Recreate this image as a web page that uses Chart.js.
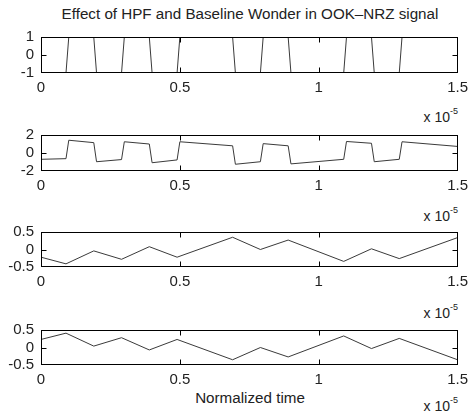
<!DOCTYPE html>
<html><head><meta charset="utf-8">
<script src="https://cdn.jsdelivr.net/npm/chart.js@4/dist/chart.umd.min.js"></script>
<style>
body{margin:0;background:#fff;width:474px;height:414px;overflow:hidden;position:relative;font-family:"Liberation Sans",Arial,sans-serif;color:#222}
.c{position:absolute;left:0}
.t{position:absolute;white-space:nowrap;font-size:15.2px;line-height:17px}
.e{position:absolute;font-size:14px;line-height:14px;white-space:nowrap}
.e sup{font-size:9px;position:relative;top:-2px}
</style></head><body>
<div class="t" style="left:0;width:500px;text-align:center;top:5px">Effect of HPF and Baseline Wonder in OOK–NRZ signal</div>
<div class="e" style="right:16px;top:106px">x 10<sup>-5</sup></div>
<div class="e" style="right:16px;top:205px">x 10<sup>-5</sup></div>
<div class="e" style="right:16px;top:302px">x 10<sup>-5</sup></div>
<div class="t" style="left:0;width:500px;text-align:center;top:389px">Normalized time</div>
<div class="e" style="right:16px;top:395px">x 10<sup>-5</sup></div>
<canvas id="c1" class="c"></canvas>
<canvas id="c2" class="c"></canvas>
<canvas id="c3" class="c"></canvas>
<canvas id="c4" class="c"></canvas>
<script>
// x values are in units of 1e-5 (normalized time)
const xTicks = [0, 0.5, 1, 1.5];

// Panel 1: OOK-NRZ signal
const t1 = [0, 0.09, 0.10, 0.19, 0.20, 0.29, 0.30, 0.39, 0.40, 0.49, 0.50, 0.69, 0.70, 0.79, 0.80, 0.89, 0.90, 1.09, 1.10, 1.19, 1.20, 1.29, 1.30, 1.50];
const v1 = [-1, -1, 1, 1, -1, -1, 1, 1, -1, -1, 1, 1, -1, -1, 1, 1, -1, -1, 1, 1, -1, -1, 1, 1];
const yTicks1 = [-1, 0, 1];

// Panel 2: after HPF (baseline wander)
const t2 = [0, 0.09, 0.10, 0.19, 0.20, 0.29, 0.30, 0.39, 0.40, 0.49, 0.50, 0.69, 0.70, 0.79, 0.80, 0.89, 0.90, 1.09, 1.10, 1.19, 1.20, 1.29, 1.30, 1.50];
const v2 = [-0.70, -0.63, 1.42, 1.15, -0.97, -0.73, 1.25, 1.00, -1.08, -0.77, 1.25, 0.80, -1.25, -0.97, 1.04, 0.80, -1.21, -0.70, 1.28, 1.08, -0.97, -0.70, 1.25, 0.73];
const yTicks2 = [-2, 0, 2];

// Panel 3
const t3 = [0, 0.09, 0.19, 0.29, 0.39, 0.49, 0.69, 0.79, 0.89, 1.09, 1.19, 1.29, 1.50];
const v3 = [-0.22, -0.41, -0.04, -0.28, 0.08, -0.22, 0.35, 0.00, 0.27, -0.34, 0.02, -0.26, 0.34];
const yTicks3 = [-0.5, 0, 0.5];

// Panel 4
const t4 = [0, 0.09, 0.19, 0.29, 0.39, 0.49, 0.69, 0.79, 0.89, 1.09, 1.19, 1.29, 1.50];
const v4 = [0.23, 0.41, 0.04, 0.28, -0.07, 0.23, -0.35, 0.00, -0.27, 0.33, -0.03, 0.26, -0.35];
const yTicks4 = [-0.5, 0, 0.5];

const framePlugin = {
  id: 'frame',
  afterDatasetsDraw(chart) {
    const {ctx, chartArea: a, scales: {x, y}} = chart;
    const L = Math.round(a.left) + 0.5, R = Math.round(a.right) - 0.5;
    const T = Math.round(a.top) + 0.5, B = Math.round(a.bottom) - 0.5;
    ctx.save();
    ctx.strokeStyle = '#000';
    ctx.lineWidth = 1;
    ctx.strokeRect(L, T, R - L, B - T);
    ctx.beginPath();
    x.ticks.forEach(tk => {
      const px = Math.round(x.getPixelForValue(tk.value)) + 0.5;
      if (px <= L + 1 || px >= R - 1) return;
      ctx.moveTo(px, B); ctx.lineTo(px, B - 5);
      ctx.moveTo(px, T); ctx.lineTo(px, T + 5);
    });
    y.ticks.forEach(tk => {
      const py = Math.round(y.getPixelForValue(tk.value)) + 0.5;
      if (py <= T + 1 || py >= B - 1) return;
      ctx.moveTo(L, py); ctx.lineTo(L + 5, py);
      ctx.moveTo(R, py); ctx.lineTo(R - 5, py);
    });
    ctx.stroke();
    ctx.restore();
  }
};

const font = {family: '"Liberation Sans", Arial, sans-serif', size: 15};

function makePanel(id, top, plotH, ts, vs, yt) {
  const padTop = 12, xAxisH = 30;
  const cv = document.getElementById(id);
  cv.style.top = (top - padTop) + 'px';
  cv.width = 474; cv.height = plotH + padTop + xAxisH;
  cv.style.width = '474px'; cv.style.height = cv.height + 'px';
  new Chart(cv, {
    type: 'line',
    data: {datasets: [{
      data: ts.map((t, i) => ({x: t, y: vs[i]})),
      borderColor: '#3a3a3a', borderWidth: 1, pointRadius: 0, tension: 0, fill: false
    }]},
    options: {
      responsive: false, animation: false, devicePixelRatio: 1,
      layout: {padding: {left: 0, right: 11, top: padTop, bottom: 0}},
      plugins: {legend: {display: false}, tooltip: {enabled: false}, title: {display: false}},
      scales: {
        x: {
          type: 'linear', min: xTicks[0], max: xTicks[xTicks.length - 1],
          afterBuildTicks: s => { s.ticks = xTicks.map(v => ({value: v})); },
          afterFit: s => { s.height = xAxisH; },
          grid: {display: false, drawTicks: false}, border: {display: false},
          ticks: {font, color: '#222', padding: 6, maxRotation: 0, autoSkip: false, callback: v => String(v)}
        },
        y: {
          type: 'linear', min: yt[0], max: yt[yt.length - 1],
          afterBuildTicks: s => { s.ticks = yt.map(v => ({value: v})); },
          afterFit: s => { s.width = 41; },
          grid: {display: false, drawTicks: false}, border: {display: false},
          ticks: {font, color: '#222', padding: 7, autoSkip: false, callback: v => String(v)}
        }
      }
    },
    plugins: [framePlugin]
  });
}

makePanel('c1', 33, 40, t1, v1, yTicks1);
makePanel('c2', 131, 40, t2, v2, yTicks2);
makePanel('c3', 228, 39, t3, v3, yTicks3);
makePanel('c4', 326, 39, t4, v4, yTicks4);
</script>
</body></html>
